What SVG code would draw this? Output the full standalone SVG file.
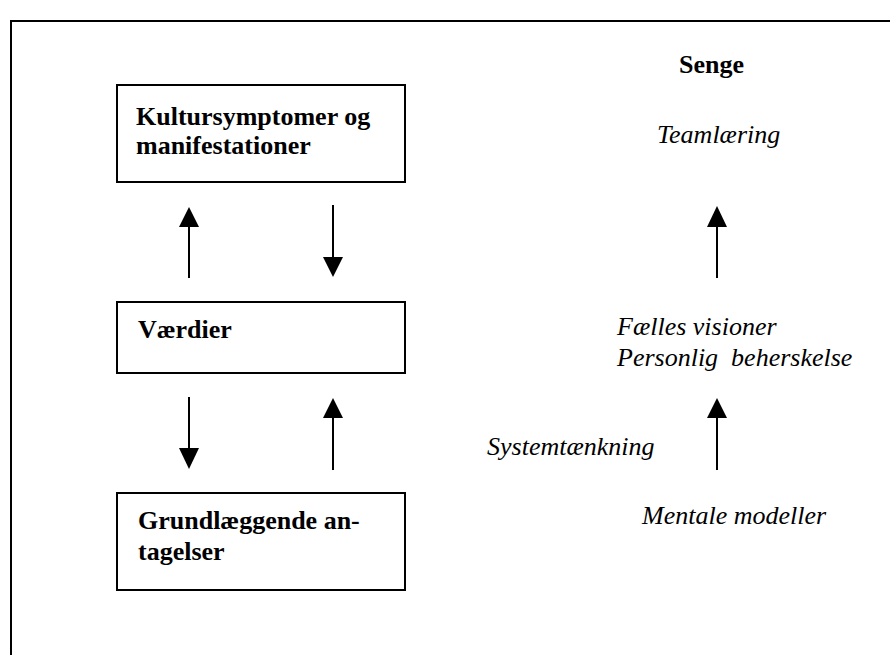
<svg xmlns="http://www.w3.org/2000/svg" width="890" height="655" viewBox="0 0 890 655">
  <defs>
    <style>
      .frame { fill: none; stroke: #000; stroke-width: 2; }
      .box { fill: #fff; stroke: #000; stroke-width: 2; }
      .bold { font-family: "Liberation Serif", "Times New Roman", serif; font-weight: bold; font-size: 26px; fill: #000; }
      .ital { font-family: "Liberation Serif", "Times New Roman", serif; font-style: italic; font-size: 26px; fill: #000; white-space: pre; }
      .arrow { stroke: #000; stroke-width: 2; fill: none; }
      .head { fill: #000; stroke: none; }
    </style>
  </defs>

  <rect width="890" height="655" fill="#fff"/>

  <!-- outer frame (right and bottom edges lie outside the page) -->
  <path class="frame" d="M11,700 V21 H900"/>

  <!-- Schein levels -->
  <g id="kultursymptomer">
    <rect class="box" x="117" y="85" width="288" height="97"/>
    <text class="bold" x="136" y="125">Kultursymptomer og</text>
    <text class="bold" x="136" y="154">manifestationer</text>
  </g>

  <g id="vaerdier">
    <rect class="box" x="117" y="302" width="288" height="71"/>
    <text class="bold" x="138" y="338">Værdier</text>
  </g>

  <g id="grundlaeggende">
    <rect class="box" x="117" y="493" width="288" height="97"/>
    <text class="bold" x="138" y="529">Grundlæggende an-</text>
    <text class="bold" x="138" y="560">tagelser</text>
  </g>

  <!-- Senge disciplines -->
  <g id="senge">
    <text class="bold" x="679" y="73">Senge</text>
  </g>
  <g id="teamlaering">
    <text class="ital" x="657" y="143">Teamlæring</text>
  </g>
  <g id="visioner">
    <text class="ital" x="617" y="335">Fælles visioner</text>
    <text class="ital" x="617" y="366">Personlig  beherskelse</text>
  </g>
  <g id="systemtaenkning">
    <text class="ital" x="487" y="455">Systemtænkning</text>
  </g>
  <g id="mentale">
    <text class="ital" x="642" y="524">Mentale modeller</text>
  </g>

  <!-- connectors -->
  <g id="connectors">
    <!-- left column: levels -->
    <line class="arrow" x1="189" y1="278" x2="189" y2="226"/>
    <polygon class="head" points="189,207 179,227 199,227"/>
    <line class="arrow" x1="333" y1="205" x2="333" y2="258"/>
    <polygon class="head" points="333,277 323,257 343,257"/>
    <line class="arrow" x1="189" y1="397" x2="189" y2="449"/>
    <polygon class="head" points="189,469 179,448 199,448"/>
    <line class="arrow" x1="333" y1="470" x2="333" y2="417"/>
    <polygon class="head" points="333,398 323,418 343,418"/>
    <!-- right column: disciplines -->
    <line class="arrow" x1="717" y1="278" x2="717" y2="226"/>
    <polygon class="head" points="717,206 707,227 727,227"/>
    <line class="arrow" x1="717" y1="470" x2="717" y2="417"/>
    <polygon class="head" points="717,398 707,418 727,418"/>
  </g>
</svg>
